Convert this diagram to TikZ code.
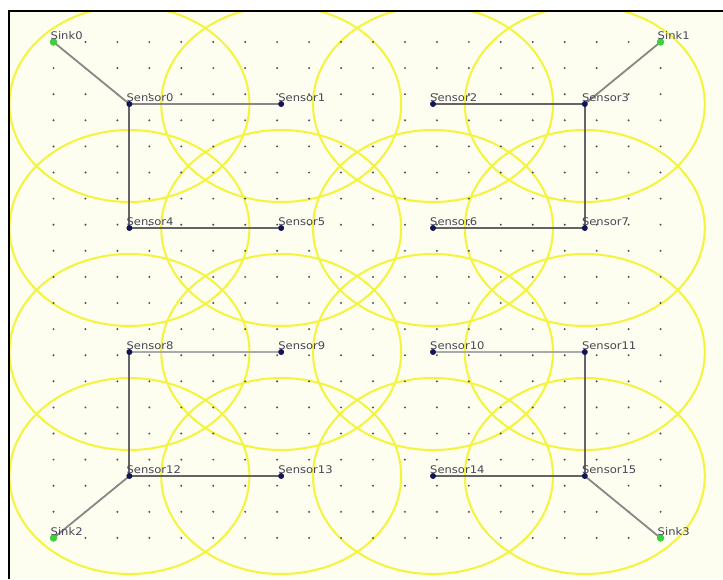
\documentclass[tikz,border=0pt]{standalone}
\usepackage{fontspec}
\newfontfamily\labfont[FakeStretch=1.1]{DejaVu Sans}
\definecolor{cream}{RGB}{254,254,240}
\definecolor{ringyellow}{RGB}{244,244,60}
\definecolor{navy}{RGB}{20,20,90}
\definecolor{sinkgreen}{RGB}{60,210,60}
\definecolor{linkdark}{RGB}{100,100,100}
\definecolor{linkmid}{RGB}{135,135,135}
\definecolor{linklight}{RGB}{170,170,170}
\definecolor{dotgray}{RGB}{80,80,80}
\definecolor{labgray}{RGB}{70,70,85}
\begin{document}
\begin{tikzpicture}[x=1pt,y=-1pt,
  sensor/.style={circle,fill=navy,inner sep=0pt,minimum size=6pt},
  sinknode/.style={circle,fill=sinkgreen,inner sep=0pt,minimum size=7.5pt},
  lab/.style={anchor=base west,inner sep=0pt,text=labgray,font=\labfont\fontsize{10.5}{12}\selectfont},
  ringline/.style={draw=ringyellow,line width=2pt},
  linkD/.style={draw=linkdark,line width=2pt},
  linkM/.style={draw=linkmid,line width=1.8pt},
  linkL/.style={draw=linklight,line width=1.7pt},
  griddot/.style={fill=dotgray}]
\useasboundingbox (0,0) rectangle (723,579);
\fill[white] (0,0) rectangle (723,579);
\fill[cream] (9,11) rectangle (723,579);
% coverage rings
\begin{scope}
  \clip (10,12) rectangle (723,579);
  \foreach \i in {0,...,3}
    \foreach \j in {0,...,3}
      \draw[ringline] ({129.4+151.8*\i},{104+124*\j}) ellipse [x radius=120, y radius=98];
\end{scope}
% grid dots
\foreach \i in {0,...,19}
  \foreach \j in {0,...,19}
    \fill[griddot] ({53.5+31.95*\i},{42+26.1*\j}) circle [radius=1.1];
% frame
\draw[black,line width=2pt] (9,579) -- (9,11) -- (723,11);
% node positions
\coordinate (k0) at (53.5,42);
\coordinate (k1) at (660.5,42);
\coordinate (k2) at (53.5,538);
\coordinate (k3) at (660.5,538);
\coordinate (c0) at (129.4,104);  \coordinate (c1) at (281.2,104);
\coordinate (c2) at (433.0,104);  \coordinate (c3) at (584.8,104);
\coordinate (c4) at (129.4,228);  \coordinate (c5) at (281.2,228);
\coordinate (c6) at (433.0,228);  \coordinate (c7) at (584.8,228);
\coordinate (c8) at (129.4,352);  \coordinate (c9) at (281.2,352);
\coordinate (c10) at (433.0,352); \coordinate (c11) at (584.8,352);
\coordinate (c12) at (129.4,476); \coordinate (c13) at (281.2,476);
\coordinate (c14) at (433.0,476); \coordinate (c15) at (584.8,476);
% links
\draw[linkM] (k0) -- (c0);
\draw[linkM] (c0) -- (c1);
\draw[linkD] (c0) -- (c4);
\draw[linkD] (c4) -- (c5);
\draw[linkM] (k1) -- (c3);
\draw[linkD] (c3) -- (c2);
\draw[linkD] (c3) -- (c7);
\draw[linkD] (c7) -- (c6);
\draw[linkL] (c8) -- (c9);
\draw[linkD] (c8) -- (c12);
\draw[linkD] (c12) -- (c13);
\draw[linkM] (c12) -- (k2);
\draw[linkL] (c10) -- (c11);
\draw[linkD] (c11) -- (c15);
\draw[linkD] (c15) -- (c14);
\draw[linkM] (c15) -- (k3);
% sinks and sensors
\foreach \n in {0,...,3} {
  \node[sinknode] (sink\n) at (k\n) {};
  \node[lab] (sinklab\n) at ([shift={(-3,-3)}]k\n) {Sink\n};
}
\foreach \n in {0,...,15} {
  \node[sensor] (s\n) at (c\n) {};
  \node[lab] (slab\n) at ([shift={(-3,-3)}]c\n) {Sensor\n};
}
\end{tikzpicture}
\end{document}
